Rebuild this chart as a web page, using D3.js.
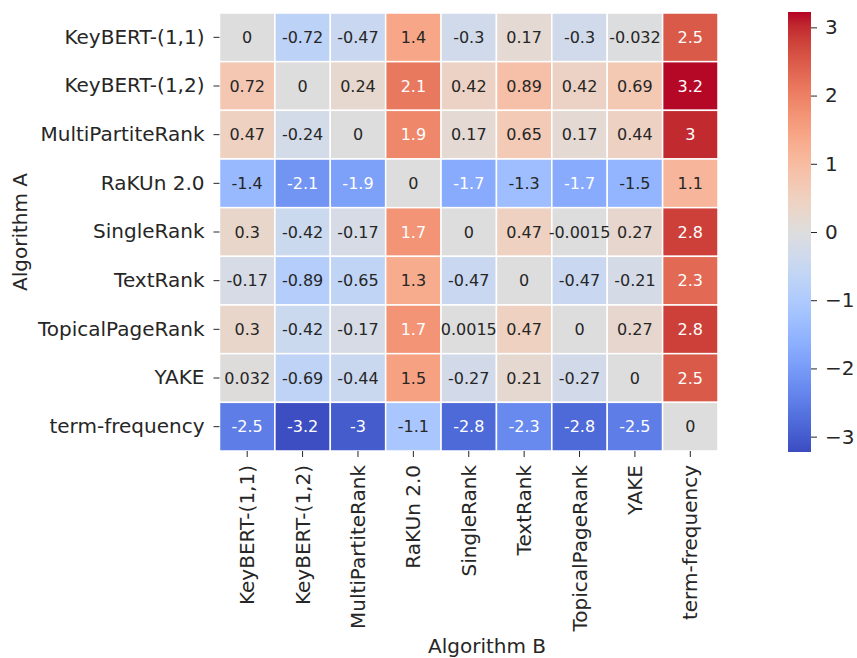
<!DOCTYPE html>
<html><head><meta charset="utf-8">
<script src="https://cdn.jsdelivr.net/npm/d3@7/dist/d3.min.js"></script>
<style>body{margin:0;background:#fff}svg{display:block}text{font-family:"DejaVu Sans",sans-serif;fill:#262626}</style>
</head><body><svg id="c" width="857" height="658"></svg>
<script>
const rowLabels = ["KeyBERT-(1,1)","KeyBERT-(1,2)","MultiPartiteRank","RaKUn 2.0","SingleRank","TextRank","TopicalPageRank","YAKE","term-frequency"];
const colLabels = ["KeyBERT-(1,1)","KeyBERT-(1,2)","MultiPartiteRank","RaKUn 2.0","SingleRank","TextRank","TopicalPageRank","YAKE","term-frequency"];
const values = [
  [0, -0.72, -0.47, 1.4, -0.3, 0.17, -0.3, -0.032, 2.5],
  [0.72, 0, 0.24, 2.1, 0.42, 0.89, 0.42, 0.69, 3.2],
  [0.47, -0.24, 0, 1.9, 0.17, 0.65, 0.17, 0.44, 3],
  [-1.4, -2.1, -1.9, 0, -1.7, -1.3, -1.7, -1.5, 1.1],
  [0.3, -0.42, -0.17, 1.7, 0, 0.47, -0.0015, 0.27, 2.8],
  [-0.17, -0.89, -0.65, 1.3, -0.47, 0, -0.47, -0.21, 2.3],
  [0.3, -0.42, -0.17, 1.7, 0.0015, 0.47, 0, 0.27, 2.8],
  [0.032, -0.69, -0.44, 1.5, -0.27, 0.21, -0.27, 0, 2.5],
  [-2.5, -3.2, -3, -1.1, -2.8, -2.3, -2.8, -2.5, 0]
];
const colorTicks = [-3, -2, -1, 0, 1, 2, 3];
const vLimit = 3.225;
const xTitle = "Algorithm B", yTitle = "Algorithm A";

// matplotlib coolwarm control points
const cw = [[59,76,192],[68,90,204],[77,104,215],[87,117,225],[98,130,234],[108,142,241],[119,154,247],[130,165,251],[141,176,254],[152,185,255],[163,194,255],[174,201,253],[184,208,249],[194,213,244],[204,217,238],[213,219,230],[221,221,221],[229,216,209],[236,211,197],[241,204,185],[245,196,173],[247,187,160],[247,177,148],[247,166,135],[244,154,123],[241,141,111],[236,127,99],[229,112,88],[222,96,77],[213,80,66],[203,62,56],[192,40,47],[180,4,38]];
const cwInterp = d3.scaleLinear().domain(d3.range(cw.length).map(i => i/(cw.length-1))).range(cw.map(c => `rgb(${c})`)).interpolate(d3.interpolateRgb).clamp(true);
const color = d3.scaleLinear().domain([-vLimit, vLimit]).range([0,1]).clamp(true);
const col = v => cwInterp(color(v));

function lum(c){
  const r = d3.rgb(c);
  const f = x => { x/=255; return x <= 0.03928 ? x/12.92 : Math.pow((x+0.055)/1.055, 2.4); };
  return 0.2126*f(r.r) + 0.7152*f(r.g) + 0.0722*f(r.b);
}

const svg = d3.select("#c");
const L = 219.5, R = 718, T = 13, B = 451;
const x = d3.scaleBand().domain(colLabels).range([L, R]);
const y = d3.scaleBand().domain(rowLabels).range([T, B]);

const cells = [];
values.forEach((row, i) => row.forEach((v, j) => cells.push({r: rowLabels[i], c: colLabels[j], v})));

svg.append("g").selectAll("rect").data(cells).join("rect")
  .attr("x", d => x(d.c)).attr("y", d => y(d.r))
  .attr("width", x.bandwidth()).attr("height", y.bandwidth())
  .attr("fill", d => col(d.v)).attr("stroke", "#fff").attr("stroke-width", 1.5);

svg.append("g").selectAll("text").data(cells).join("text")
  .attr("x", d => x(d.c) + x.bandwidth()/2).attr("y", d => y(d.r) + y.bandwidth()/2)
  .attr("text-anchor", "middle").attr("dominant-baseline", "central")
  .style("font-size", "16px")
  .style("fill", d => lum(col(d.v)) < 0.44 ? "#ffffff" : "#262626")
  .text(d => String(d.v));

const fs = "20px";
// y axis
const ya = svg.append("g").attr("transform", `translate(${L},0)`)
  .call(d3.axisLeft(y).tickSize(6).tickPadding(9));
ya.select(".domain").remove();
ya.selectAll("line").attr("stroke", "#262626").attr("stroke-width", 1);
ya.selectAll("text").style("font-size", fs).attr("fill", "#262626");

// x axis
const xa = svg.append("g").attr("transform", `translate(0,${B})`)
  .call(d3.axisBottom(x).tickSize(6).tickPadding(8));
xa.select(".domain").remove();
xa.selectAll("line").attr("stroke", "#262626");
xa.selectAll("text").style("font-size", fs).attr("fill", "#262626")
  .attr("transform", "rotate(-90)").attr("text-anchor", "end")
  .attr("x", -14).attr("y", 0).attr("dy", "0.35em");

svg.append("text").attr("x", 487).attr("y", 653).attr("text-anchor", "middle")
  .style("font-size", fs).text(xTitle);
svg.append("text").attr("transform", `translate(27,${(T+B)/2}) rotate(-90)`).attr("text-anchor", "middle")
  .style("font-size", fs).text(yTitle);

// colorbar
const cbL = 788, cbW = 23, cbT = 12, cbB = 452;
const cy = d3.scaleLinear().domain([-vLimit, vLimit]).range([cbB, cbT]);
const defs = svg.append("defs");
const grad = defs.append("linearGradient").attr("id", "cbg").attr("x1", 0).attr("y1", 1).attr("x2", 0).attr("y2", 0);
d3.range(0, 1.0001, 1/64).forEach(t => grad.append("stop").attr("offset", t).attr("stop-color", cwInterp(t)));
svg.append("rect").attr("x", cbL).attr("y", cbT).attr("width", cbW).attr("height", cbB - cbT).attr("fill", "url(#cbg)");
const ca = svg.append("g").attr("transform", `translate(${cbL+cbW},0)`)
  .call(d3.axisRight(cy).tickValues(colorTicks).tickSize(6).tickPadding(8).tickFormat(d => d < 0 ? "\u2212" + Math.abs(d) : String(d)));
ca.select(".domain").remove();
ca.selectAll("line").attr("stroke", "#262626");
ca.selectAll("text").style("font-size", fs).attr("fill", "#262626");
</script></body></html>
